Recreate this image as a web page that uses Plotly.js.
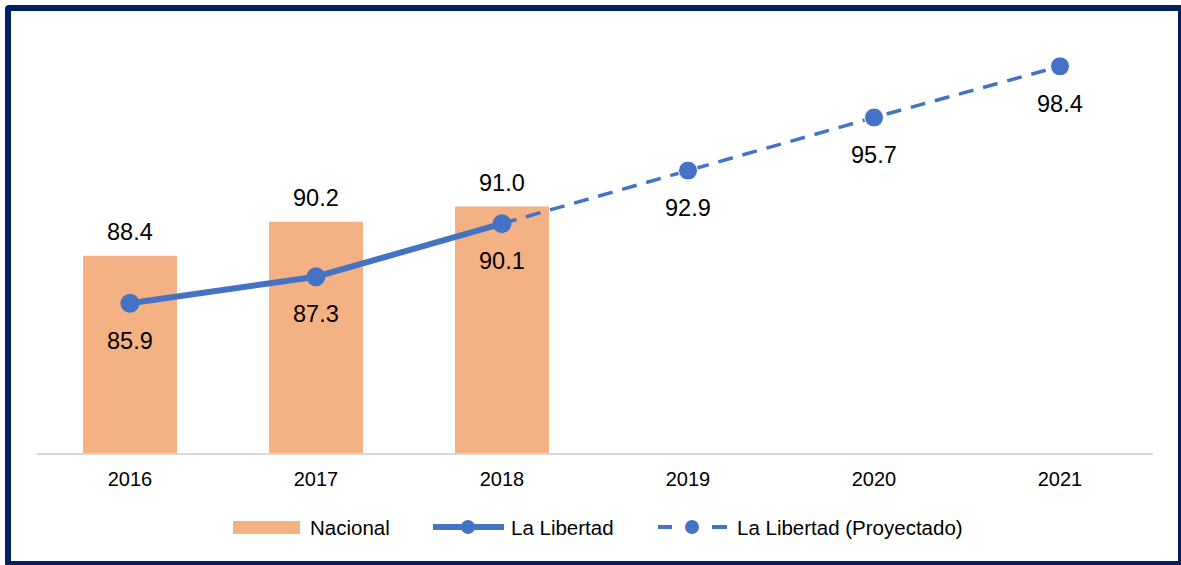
<!DOCTYPE html>
<html>
<head>
<meta charset="utf-8">
<script src="https://cdn.plot.ly/plotly-3.0.1.min.js"></script>
<style>
  html, body { margin: 0; padding: 0; background: #fff; }
  #chart { position: absolute; left: 0; top: 0; width: 1181px; height: 565px; }
  #frame { position: absolute; left: 5px; top: 5px; width: 1179px; height: 562px;
           box-sizing: border-box; border: 6px solid #002060; border-radius: 4px;
           pointer-events: none; }
</style>
</head>
<body>
<div id="chart"></div>
<div id="frame"></div>
<script>
// ---- data ----
const years = ['2016', '2017', '2018', '2019', '2020', '2021'];
const nacionalYears = ['2016', '2017', '2018'];
const nacional = [88.4, 90.2, 91.0];
const libertadYears = ['2016', '2017', '2018'];
const libertad = [85.9, 87.3, 90.1];
const proyYears = ['2018', '2019', '2020', '2021'];
const proyectado = [90.1, 92.9, 95.7, 98.4];
const legendNames = ['Nacional', 'La Libertad', 'La Libertad (Proyectado)'];

// ---- layout constants ----
const W = 1181, H = 565;
const M = { l: 37, r: 28, t: 36, b: 112 };
const PW = W - M.l - M.r, PH = H - M.t - M.b;
const px2x = p => (p - M.l) / PW;
const px2y = p => (H - M.b - p) / PH;
const FONT = 'Arial, "Liberation Sans", sans-serif';
const ORANGE = '#F4B183', BLUE = '#4472C4';
const catIndex = yr => years.indexOf(yr);

const traces = [
  {
    type: 'bar', name: legendNames[0], x: nacionalYears, y: nacional,
    marker: { color: ORANGE }, width: 0.505, showlegend: false, hoverinfo: 'x+y'
  },
  {
    type: 'scatter', mode: 'lines+markers', name: legendNames[1],
    x: libertadYears, y: libertad,
    line: { color: BLUE, width: 6 }, marker: { color: BLUE, size: 19, opacity: 1 },
    showlegend: false
  },
  {
    type: 'scatter', mode: 'lines+markers', name: legendNames[2],
    x: proyYears, y: proyectado,
    line: { color: BLUE, width: 3.5, dash: '15px,10px' },
    marker: { color: BLUE, opacity: 1, size: proyYears.map((y, i) => i === 0 ? 0 : 19) },
    showlegend: false
  }
];

const annotations = [];
const labelFont = { family: FONT, size: 23.5, color: '#000' };
nacionalYears.forEach((yr, i) => annotations.push({
  x: catIndex(yr), y: nacional[i], xref: 'x', yref: 'y', text: nacional[i].toFixed(1),
  showarrow: false, xanchor: 'center', yanchor: 'middle', yshift: 24, font: labelFont
}));
libertadYears.forEach((yr, i) => annotations.push({
  x: catIndex(yr), y: libertad[i], xref: 'x', yref: 'y', text: libertad[i].toFixed(1),
  showarrow: false, xanchor: 'center', yanchor: 'middle', yshift: -37.5, font: labelFont
}));
proyYears.forEach((yr, i) => { if (i > 0) annotations.push({
  x: catIndex(yr), y: proyectado[i], xref: 'x', yref: 'y', text: proyectado[i].toFixed(1),
  showarrow: false, xanchor: 'center', yanchor: 'middle', yshift: -37.5, font: labelFont
}); });

// ---- custom legend ----
const LY = 527;
const legendText = [[legendNames[0], 308], [legendNames[1], 509], [legendNames[2], 735]];
legendText.forEach(([t, xp]) => annotations.push({
  xref: 'paper', yref: 'paper', x: px2x(xp), y: px2y(LY), text: t,
  xanchor: 'left', yanchor: 'middle', showarrow: false,
  font: { family: FONT, size: 20.5, color: '#000' }
}));

const shapes = [
  { type: 'rect', xref: 'paper', yref: 'paper',
    x0: px2x(233), x1: px2x(300), y0: px2y(534), y1: px2y(521),
    fillcolor: ORANGE, line: { width: 0 } },
  { type: 'line', xref: 'paper', yref: 'paper',
    x0: px2x(433), x1: px2x(504), y0: px2y(LY), y1: px2y(LY),
    line: { color: BLUE, width: 6 } },
  { type: 'circle', xref: 'paper', yref: 'paper', xsizemode: 'pixel', ysizemode: 'pixel',
    xanchor: px2x(468), yanchor: px2y(LY), x0: -7, x1: 7, y0: -7, y1: 7,
    fillcolor: BLUE, line: { width: 0 } },
  { type: 'line', xref: 'paper', yref: 'paper',
    x0: px2x(658), x1: px2x(672), y0: px2y(LY), y1: px2y(LY),
    line: { color: BLUE, width: 4 } },
  { type: 'line', xref: 'paper', yref: 'paper',
    x0: px2x(712), x1: px2x(727), y0: px2y(LY), y1: px2y(LY),
    line: { color: BLUE, width: 4 } },
  { type: 'circle', xref: 'paper', yref: 'paper', xsizemode: 'pixel', ysizemode: 'pixel',
    xanchor: px2x(692), yanchor: px2y(LY), x0: -7, x1: 7, y0: -7, y1: 7,
    fillcolor: BLUE, line: { width: 0 } }
];

const layout = {
  width: W, height: H,
  margin: M,
  paper_bgcolor: '#fff', plot_bgcolor: '#fff',
  font: { family: FONT, color: '#000' },
  showlegend: false,
  xaxis: {
    type: 'category', categoryorder: 'array', categoryarray: years,
    range: [-0.5, years.length - 0.5],
    showgrid: false, zeroline: false, showline: true,
    linecolor: '#D9D9D9', linewidth: 2, ticks: '',
    ticklabelstandoff: 7,
    tickfont: { family: FONT, size: 20, color: '#000' }
  },
  yaxis: {
    range: [78, 100], showticklabels: false, showline: false, ticks: '',
    showgrid: false, zeroline: false
  },
  annotations: annotations,
  shapes: shapes
};

Plotly.newPlot('chart', traces, layout, { displayModeBar: false, staticPlot: true });
</script>
</body>
</html>
